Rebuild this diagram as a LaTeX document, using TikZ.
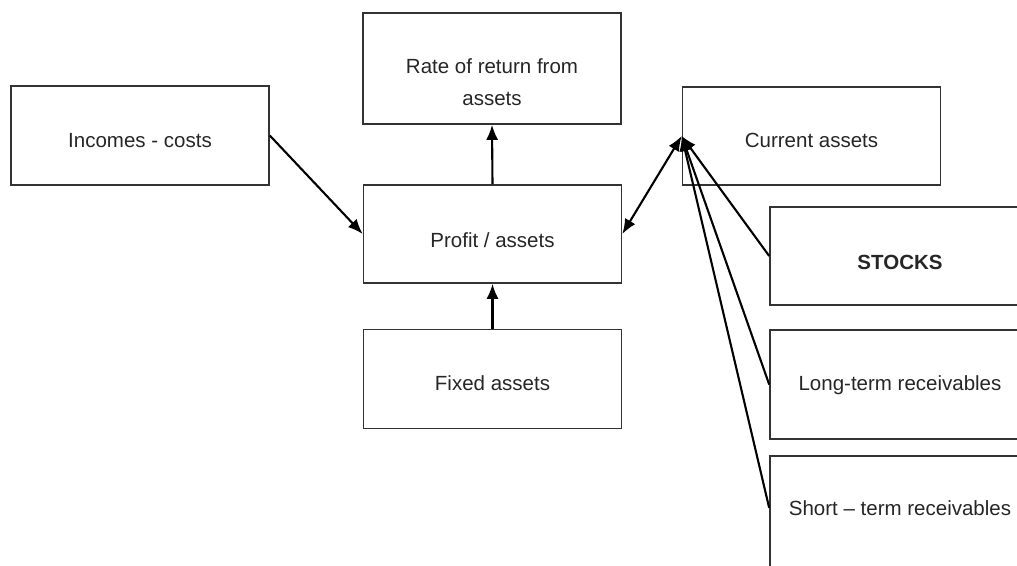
\documentclass[tikz,border=0pt]{standalone}
\usepackage{fontspec}
\setmainfont{Liberation Sans}
\usetikzlibrary{arrows.meta}
\newcommand\lowertext[2]{\raisebox{-#1}[0pt][0pt]{#2}}
\begin{document}
\begin{tikzpicture}[x=1pt,y=-1pt,
  txt/.style={font=\fontsize{20.5}{32}\selectfont, text=black!85, align=center},
  box/.style={txt, draw=black!80, line width=1.6pt, minimum width=258pt, inner sep=0pt},
  con/.style={line width=2.1pt, -{Latex[length=15pt,width=12pt]}}]
\useasboundingbox (0,0) rectangle (1017,565);
\clip (0,0) rectangle (1017,565);
\node[box, minimum height=99pt] (inc) at (140,135.5) {\lowertext{12pt}{Incomes - costs}};
\node[box, minimum height=111pt] (rate) at (492,68.5) {\lowertext{20pt}{\begin{tabular}{@{}c@{}}Rate of return from\\assets\end{tabular}}};
\node[box, minimum height=98pt] (prof) at (492.5,234) {\lowertext{13.5pt}{Profit / assets}};
\node[box, minimum height=99pt] (fix) at (492.5,379) {\lowertext{11.5pt}{Fixed assets}};
\node[box, minimum height=98pt] (cur) at (811.5,136) {\lowertext{11.5pt}{Current assets}};
\node[box, minimum width=260pt, minimum height=98pt] (stk) at (900,256) {\lowertext{13.5pt}{\bfseries STOCKS}};
\node[box, minimum width=260pt, minimum height=109pt] (lt) at (900,384.5) {\lowertext{6pt}{Long-term receivables}};
\node[box, minimum width=260pt, minimum height=150pt, anchor=north] (st) at (900,455) {};
\node[txt] (stt) at (900,508) {Short – term receivables};
\draw[con] (inc.east) -- (prof.west);
\draw[con] (prof.north) -- (rate.south);
\draw[con] (fix.north) -- (prof.south);
\draw[con, {Latex[length=15pt,width=12pt]}-{Latex[length=15pt,width=12pt]}] (prof.east) -- (cur.west);
\draw[con] (stk.west) -- (cur.west);
\draw[con] (lt.west) -- (cur.west);
\draw[con] (st.west |- stt) -- (cur.west);
\end{tikzpicture}
\end{document}
